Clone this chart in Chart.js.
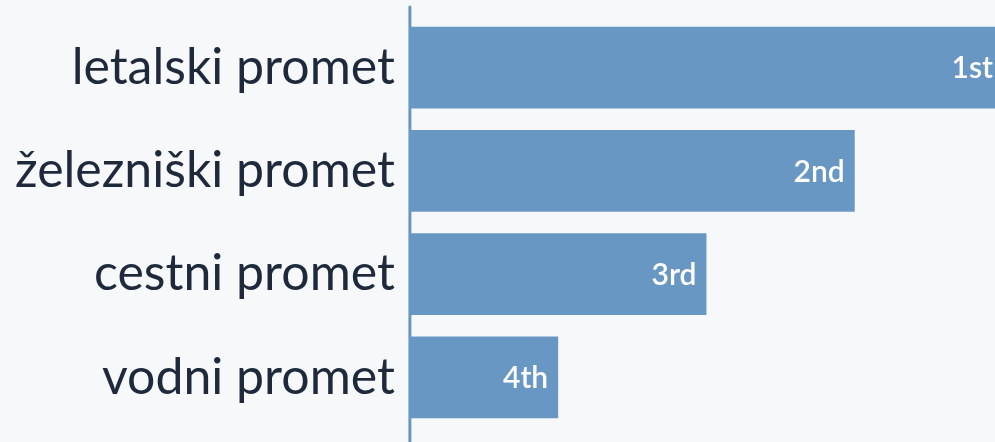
<!DOCTYPE html>
<html>
<head>
<meta charset="utf-8">
<script src="https://cdn.jsdelivr.net/npm/chart.js@4.4.1/dist/chart.umd.min.js"></script>
<style>
    html, body { margin: 0; padding: 0; background: #f7f8fa; overflow: hidden; }
    #wrap { position: relative; width: 1003px; height: 442px; }
</style>
</head>
<body>
<div id="wrap"><canvas id="chart" width="1003" height="442"></canvas></div>
<script>
const categories = ["letalski promet", "železniški promet", "cestni promet", "vodni promet"];
const values = [4, 3, 2, 1];
const rankLabels = ["1st", "2nd", "3rd", "4th"];

const barColor = "#6897c4";
const fontFamily = "Lato, 'Source Sans Pro', 'Open Sans', sans-serif";

// vertical axis line, runs past the plot area like the original
const axisLine = {
    id: "axisLine",
    afterDraw(chart) {
        const { ctx } = chart;
        const x = chart.scales.x.getPixelForValue(0);
        ctx.save();
        ctx.strokeStyle = barColor;
        ctx.lineWidth = 3;
        ctx.lineCap = "round";
        ctx.beginPath();
        ctx.moveTo(x, 7);
        ctx.lineTo(x, chart.height + 5);
        ctx.stroke();
        ctx.restore();
    }
};

const rankText = {
    id: "rankText",
    afterDatasetsDraw(chart) {
        const { ctx } = chart;
        const meta = chart.getDatasetMeta(0);
        ctx.save();
        ctx.fillStyle = "#ffffff";
        ctx.font = "600 30px " + fontFamily;
        ctx.textAlign = "right";
        ctx.textBaseline = "middle";
        meta.data.forEach((bar, i) => {
            ctx.fillText(rankLabels[i], bar.x - 10, bar.y + 1);
        });
        ctx.restore();
    }
};

new Chart(document.getElementById("chart"), {
    type: "bar",
    data: {
        labels: categories,
        datasets: [{
            data: values,
            backgroundColor: barColor,
            borderWidth: 0,
            barPercentage: 0.79,
            categoryPercentage: 1
        }]
    },
    options: {
        indexAxis: "y",
        responsive: false,
        animation: false,
        layout: {
            padding: { top: 16, bottom: 13, left: 0, right: 0 }
        },
        plugins: {
            legend: { display: false },
            tooltip: { enabled: false }
        },
        scales: {
            x: {
                display: false,
                min: 0,
                max: 4
            },
            y: {
                grid: { display: false, drawTicks: false },
                border: { display: false },
                ticks: {
                    color: "#1e293b",
                    padding: 15,
                    font: { family: fontFamily, size: 50 }
                },
                afterFit: scale => {
                    scale.paddingTop = 0;
                    scale.paddingBottom = 0;
                }
            }
        }
    },
    plugins: [axisLine, rankText]
});
</script>
</body>
</html>
